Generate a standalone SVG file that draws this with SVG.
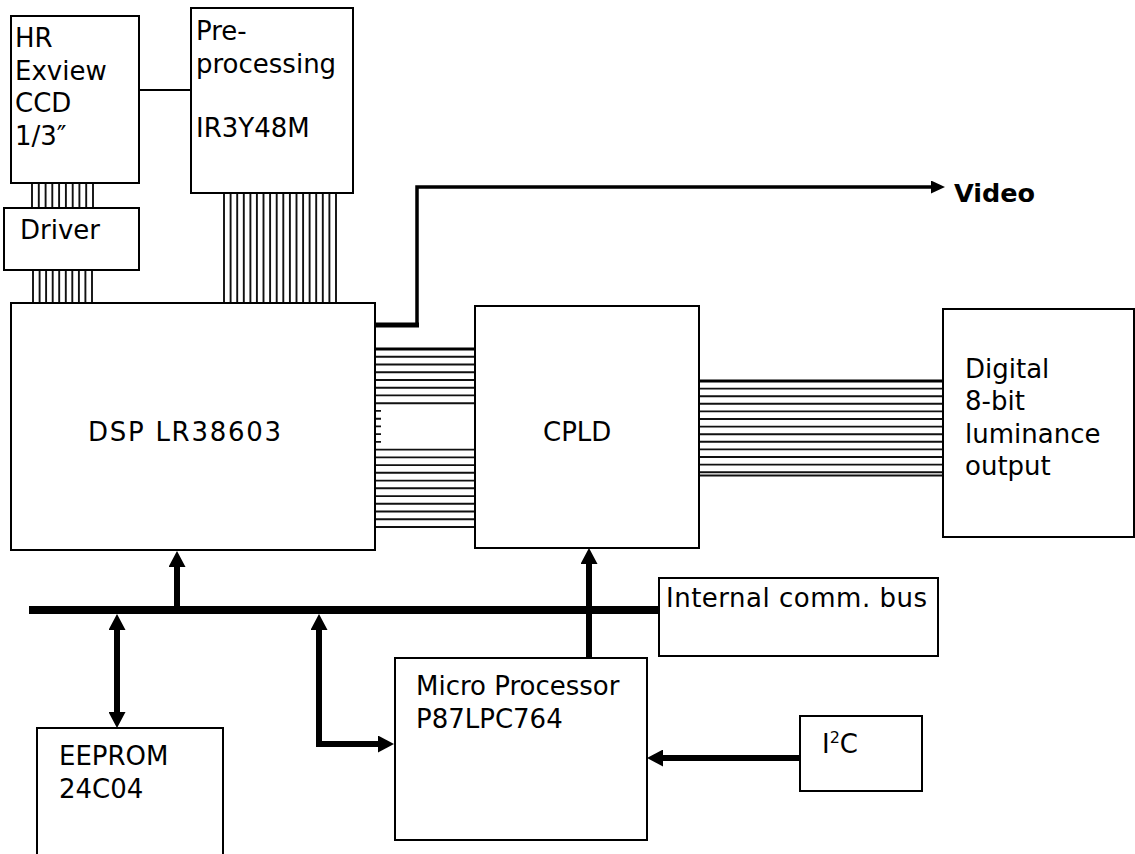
<svg xmlns="http://www.w3.org/2000/svg" width="1135" height="854" viewBox="0 0 1135 854">
<style>
.box{fill:#fff;stroke:#000;stroke-width:2}
.t{font-family:"DejaVu Sans",Verdana,sans-serif;font-size:26px;fill:#000}
.tb{font-family:"DejaVu Sans","Liberation Sans",sans-serif;font-size:25.5px;font-weight:bold;fill:#000}
.rib{stroke:#111;stroke-width:1.9;fill:none}
.thk{stroke:#000;stroke-width:6;fill:none}
</style>
<defs>
<marker id="ah" viewBox="0 0 16 17" refX="6" refY="8.5" markerWidth="16" markerHeight="17" markerUnits="userSpaceOnUse" orient="auto-start-reverse">
<path d="M0,0 L16,8.5 L0,17 z" fill="#000"/>
</marker>
<marker id="ahs" viewBox="0 0 14 13" refX="4" refY="6.5" markerWidth="14" markerHeight="13" markerUnits="userSpaceOnUse" orient="auto">
<path d="M0,0 L14,6.5 L0,13 z" fill="#000"/>
</marker>
</defs>
<rect width="1135" height="854" fill="#fff"/>

<g id="connectors">
<line x1="139" y1="90" x2="191" y2="90" stroke="#000" stroke-width="2"/>
<path class="rib" d="M32,183V208M38.8,183V208M45.6,183V208M52.3,183V208M59.1,183V208M65.9,183V208M72.7,183V208M79.4,183V208M86.2,183V208M93,183V208"/>
<path class="rib" d="M33,270V303M39.6,270V303M46.1,270V303M52.7,270V303M59.2,270V303M65.8,270V303M72.3,270V303M78.9,270V303M85.4,270V303M92,270V303"/>
<path class="rib" d="M224,193V303M230.6,193V303M237.2,193V303M243.8,193V303M250.4,193V303M256.9,193V303M263.5,193V303M270.1,193V303M276.7,193V303M283.3,193V303M289.9,193V303M296.5,193V303M303.1,193V303M309.6,193V303M316.2,193V303M322.8,193V303M329.4,193V303M336,193V303"/>
<line x1="375" y1="349" x2="475" y2="349" stroke="#000" stroke-width="3"/>
<path class="rib" d="M375,356.7H475M375,364.5H475M375,372.2H475M375,380H475M375,387.7H475M375,395.4H475M375,403.2H475
M375,410.9H381M375,418.7H381M375,426.4H381M375,434.1H381M375,441.9H381
M375,449.6H475M375,457.4H475M375,465.1H475M375,472.8H475M375,480.6H475M375,488.3H475M375,496.1H475M375,503.8H475M375,511.5H475M375,519.3H475M375,527H475"/>
<line x1="699" y1="381" x2="943" y2="381" stroke="#000" stroke-width="2.8"/>
<path class="rib" d="M699,388.6H943M699,396.2H943M699,403.8H943M699,411.4H943M699,419H943M699,426.6H943M699,434.2H943M699,441.8H943M699,449.4H943M699,457H943M699,464.6H943M699,472.2H943M699,475.5H943"/>
<line x1="375" y1="325" x2="419" y2="325" stroke="#000" stroke-width="5"/>
<polyline points="417,325 417,187 935,187" fill="none" stroke="#000" stroke-width="3.5" marker-end="url(#ahs)"/>
<line x1="29" y1="610" x2="659" y2="610" stroke="#000" stroke-width="8"/>
<line class="thk" x1="177" y1="610" x2="177" y2="561" marker-end="url(#ah)"/>
<line class="thk" x1="117" y1="624" x2="117" y2="718" marker-start="url(#ah)" marker-end="url(#ah)"/>
<polyline class="thk" points="319,624 319,744 384,744" marker-start="url(#ah)" marker-end="url(#ah)"/>
<line class="thk" x1="589" y1="663" x2="589" y2="558" marker-end="url(#ah)"/>
<line class="thk" x1="800" y1="758" x2="657" y2="758" marker-end="url(#ah)"/>
</g>

<g id="hr-ccd">
<rect class="box" x="11" y="16" width="128" height="167"/>
<text class="t" x="15" y="47">HR</text>
<text class="t" x="15" y="80">Exview</text>
<text class="t" x="15" y="112">CCD</text>
<text class="t" x="15" y="145">1/3″</text>
</g>
<g id="preprocessing">
<rect class="box" x="191" y="8" width="162" height="185"/>
<text class="t" x="196" y="40">Pre-</text>
<text class="t" x="196" y="73">processing</text>
<text class="t" x="196" y="137">IR3Y48M</text>
</g>
<g id="driver">
<rect class="box" x="4" y="208" width="135" height="62"/>
<text class="t" x="20" y="239">Driver</text>
</g>
<g id="dsp">
<rect class="box" x="11" y="303" width="364" height="247"/>
<text class="t" x="88" y="441" textLength="193">DSP LR38603</text>
</g>
<g id="cpld">
<rect class="box" x="475" y="306" width="224" height="242"/>
<text class="t" x="543" y="441">CPLD</text>
</g>
<g id="digital-output">
<rect class="box" x="943" y="309" width="191" height="228"/>
<text class="t" x="965" y="378">Digital</text>
<text class="t" x="965" y="410">8-bit</text>
<text class="t" x="965" y="443">luminance</text>
<text class="t" x="965" y="475">output</text>
</g>
<g id="video-label">
<text class="tb" x="954" y="202">Video</text>
</g>
<g id="internal-bus">
<rect class="box" x="659" y="578" width="279" height="78"/>
<text class="t" x="666" y="607" textLength="261">Internal comm. bus</text>
</g>
<g id="micro">
<rect class="box" x="395" y="658" width="252" height="182"/>
<text class="t" x="416" y="695">Micro Processor</text>
<text class="t" x="416" y="728">P87LPC764</text>
</g>
<g id="eeprom">
<rect class="box" x="37" y="728" width="186" height="130"/>
<text class="t" x="59" y="765">EEPROM</text>
<text class="t" x="59" y="798">24C04</text>
</g>
<g id="i2c">
<rect class="box" x="800" y="716" width="122" height="75"/>
<text class="t" x="822" y="753">I<tspan font-size="16" dy="-10">2</tspan><tspan dy="10">C</tspan></text>
</g>
</svg>
